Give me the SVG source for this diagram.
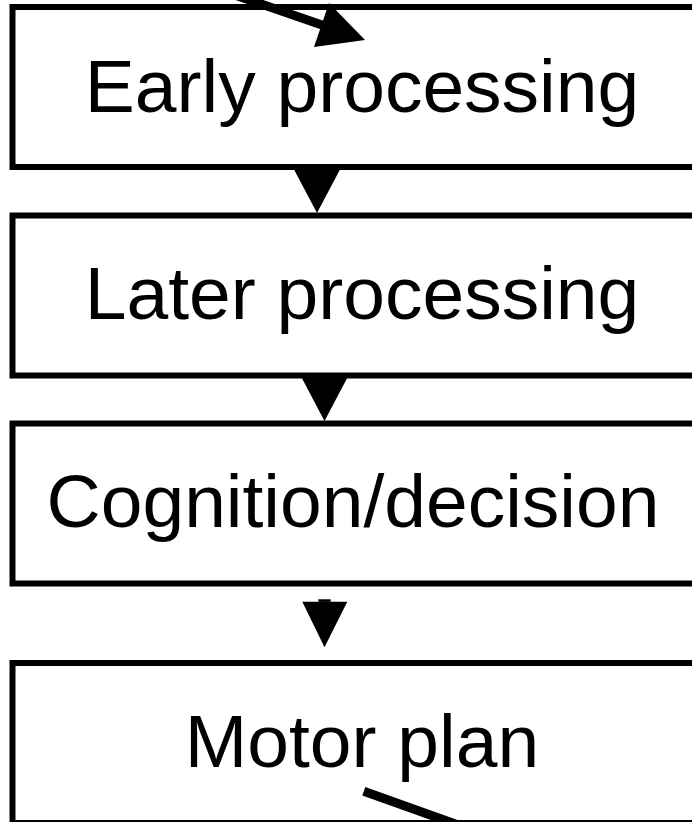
<svg xmlns="http://www.w3.org/2000/svg" width="692" height="822" viewBox="0 0 692 822">
<style>
.box{fill:#fff;stroke:#000;stroke-width:6}
.lbl{font-family:"Liberation Sans",Arial,Helvetica,sans-serif;font-size:75px;fill:#000;text-anchor:middle}
.head{fill:#000;stroke:none}
.shaft{stroke:#000;stroke-width:9;fill:none;stroke-linecap:butt}
</style>
<rect width="692" height="822" fill="#fff"/>
<g id="early">
<rect class="box" x="12.5" y="7" width="700" height="160"/>
<text class="lbl" x="362" y="112">Early processing</text>
</g>
<g id="later">
<rect class="box" x="12.5" y="215.5" width="700" height="160"/>
<text class="lbl" x="362" y="319">Later processing</text>
</g>
<g id="cognition">
<rect class="box" x="12.5" y="423.5" width="700" height="160"/>
<text class="lbl" x="353" y="527">Cognition/decision</text>
</g>
<g id="motor">
<rect class="box" x="12.5" y="663" width="700" height="160"/>
<text class="lbl" x="362" y="767">Motor plan</text>
</g>
<g id="connectors">
<line class="shaft" x1="200" y1="-17" x2="322" y2="25"/>
<polygon class="head" points="329,3 365,40 314,47"/>
<polygon class="head" points="292.7,167 341.3,167 317,213"/>
<polygon class="head" points="300.5,375.5 348.5,375.5 324.5,421"/>
<rect class="head" x="318.3" y="599.3" width="12.4" height="2.6"/>
<polygon class="head" points="302.3,601.7 347.3,601.7 324.5,647.3"/>
<line class="shaft" x1="363.8" y1="791.3" x2="552" y2="858.5"/>
</g>
</svg>
